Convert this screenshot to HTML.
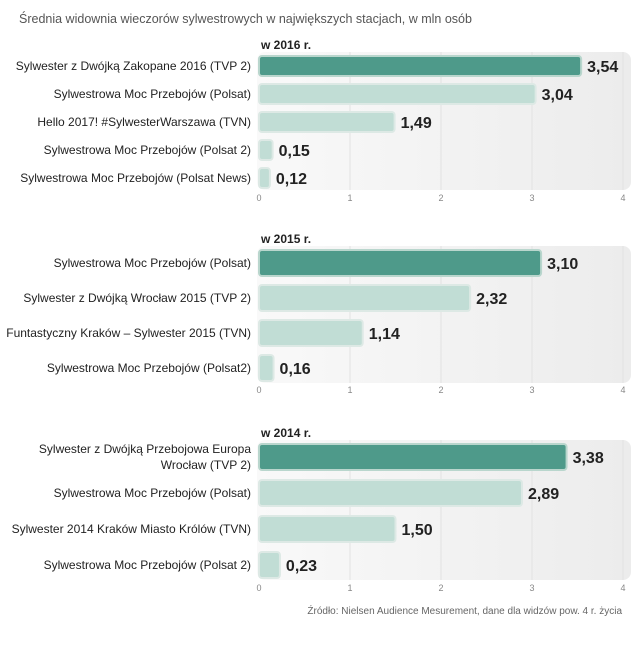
<!DOCTYPE html>
<html><head><meta charset="utf-8">
<style>
body{margin:0;background:#fff;width:641px;height:640px;overflow:hidden;font-family:"Liberation Sans",sans-serif;}
svg text{font-family:"Liberation Sans",sans-serif;}
</style></head>
<body>
<svg id="c" width="641" height="640">
<defs><linearGradient id="bg" x1="0" x2="1" y1="0" y2="0"><stop offset="0" stop-color="#f9f9f9"/><stop offset="1" stop-color="#ececec"/></linearGradient></defs>
<text x="19" y="23" font-size="12.5" fill="#555">Średnia widownia wieczorów sylwestrowych w największych stacjach, w mln osób</text>
<text x="622" y="614" font-size="10" fill="#666" text-anchor="end">Źródło: Nielsen Audience Mesurement, dane dla widzów pow. 4 r. życia</text>
</svg>
<script>
const titles2016="w 2016 r.";
const cats2016=["Sylwester z Dwójką Zakopane 2016 (TVP 2)","Sylwestrowa Moc Przebojów (Polsat)","Hello 2017! #SylwesterWarszawa (TVN)","Sylwestrowa Moc Przebojów (Polsat 2)","Sylwestrowa Moc Przebojów (Polsat News)"];
const vals2016=[3.54,3.04,1.49,0.15,0.12];
const labels2016=["3,54","3,04","1,49","0,15","0,12"];
const cats2015=["Sylwestrowa Moc Przebojów (Polsat)","Sylwester z Dwójką Wrocław 2015 (TVP 2)","Funtastyczny Kraków – Sylwester 2015 (TVN)","Sylwestrowa Moc Przebojów (Polsat2)"];
const vals2015=[3.10,2.32,1.14,0.16];
const labels2015=["3,10","2,32","1,14","0,16"];
const cats2014=[["Sylwester z Dwójką Przebojowa Europa","Wrocław (TVP 2)"],"Sylwestrowa Moc Przebojów (Polsat)","Sylwester 2014 Kraków Miasto Królów (TVN)","Sylwestrowa Moc Przebojów (Polsat 2)"];
const vals2014=[3.38,2.89,1.50,0.23];
const labels2014=["3,38","2,89","1,50","0,23"];
const ticks=[0,1,2,3,4];
const svg=document.getElementById('c');const NS="http://www.w3.org/2000/svg";
function el(t,a,p){const e=document.createElementNS(NS,t);for(const k in a)e.setAttribute(k,a[k]);(p||svg).appendChild(e);return e;}
const x=v=>259+v*91;
function panel(id,title,cats,vals,labels,top,step,bh,tickY){
  const g=el('g',{});
  
  
  const y0=top-bh/2-4,y1=top+(cats.length-1)*step+bh/2+2;
  const bgr=el('rect',{x:257,y:y0,width:374,height:y1-y0,rx:8,fill:'url(#bg)'},g);
  
  
  ticks.forEach(t=>{
    if(t>0){const l=el('line',{x1:x(t),x2:x(t),y1:y0,y2:y1,stroke:'#e2e2e2','stroke-width':1},g);
    
    }
    const tx=el('text',{x:x(t),y:tickY,'font-size':9,fill:'#888','text-anchor':'middle'},g);tx.textContent=t;
    
    
  });
  const tt=el('text',{x:261,y:y0-3,'font-size':12,'font-weight':'bold',fill:'#222'},g);tt.textContent=title;
  
  
  cats.forEach((c,i)=>{
    const cy=top+i*step;
    const r=el('rect',{x:x(0),y:cy-bh/2,width:x(vals[i])-x(0),height:bh,rx:3,fill:i==0?'#4e9a8a':'#c1ddd5',stroke:i==0?'#b9d6cd':'#dde9e5','stroke-width':2},g);
    
    
    const v=el('text',{x:x(vals[i])+6,y:cy+6,'font-size':16,'font-weight':'bold',fill:'#222'},g);v.textContent=labels[i];
    
    
    const lines=Array.isArray(c)?c:[c];
    lines.forEach((ln,j)=>{
      const t=el('text',{x:251,y:cy+4+(j-(lines.length-1)/2)*16,'font-size':12,fill:'#222','text-anchor':'end'},g);t.textContent=ln;
      
      
    });
  });
}
panel('2016',titles2016,cats2016,vals2016,labels2016,66,28,20,201);
panel('2015',"w 2015 r.",cats2015,vals2015,labels2015,263,35,26,393);
panel('2014',"w 2014 r.",cats2014,vals2014,labels2014,457,36,26,591);
</script>
</body></html>
